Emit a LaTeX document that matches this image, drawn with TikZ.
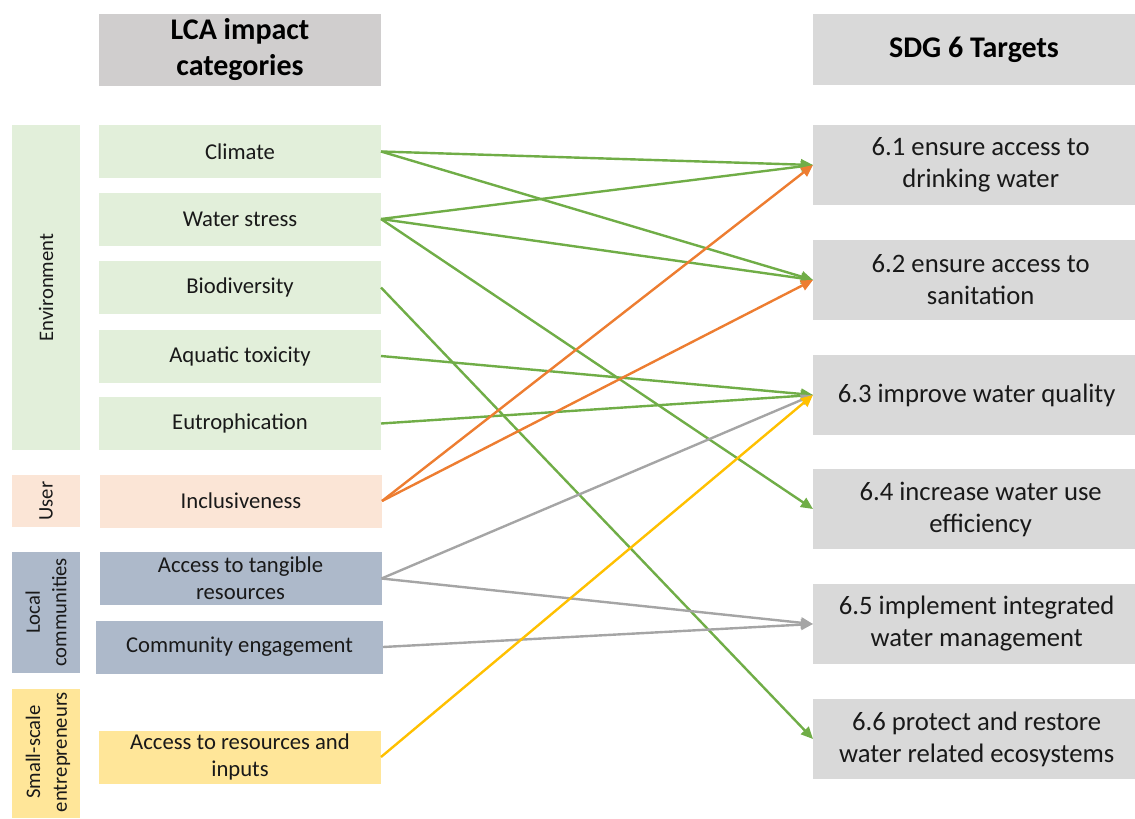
\documentclass[tikz,border=0pt]{standalone}
\usepackage{fontspec}
\setmainfont{Carlito}
\usetikzlibrary{arrows.meta}
\definecolor{envgreen}{HTML}{E2EFDA}
\definecolor{userpink}{HTML}{FBE5D6}
\definecolor{localblue}{HTML}{ADB9CA}
\definecolor{smallyellow}{HTML}{FFE699}
\definecolor{hdrgray}{HTML}{D0CECE}
\definecolor{sdggray}{HTML}{D9D9D9}
\definecolor{lgreen}{HTML}{70AD47}
\definecolor{lorange}{HTML}{ED7D31}
\definecolor{lgray}{HTML}{A5A5A5}
\definecolor{lyellow}{HTML}{FFC000}
\tikzset{
  catbox/.style={inner sep=0pt, outer sep=0pt, minimum width=211.5pt, minimum height=39.75pt, align=center, font=\fontsize{17}{20}\selectfont, text=black!90},
  sdgbox/.style={fill=sdggray, inner sep=0pt, outer sep=0pt, minimum width=241.5pt, minimum height=60pt, align=center, font=\fontsize{20}{24}\selectfont, text=black!90},
  hdrbox/.style={fill=hdrgray, inner sep=0pt, outer sep=0pt, align=center, font=\fontsize{22.5}{27}\selectfont\bfseries},
  sidebox/.style={inner sep=0pt, outer sep=0pt, minimum width=51pt, align=center},
  sidelabel/.style={rotate=90, align=center, font=\fontsize{15.5}{20}\selectfont, text=black!90},
  link/.style={line width=1.8pt, -{Triangle[length=9pt,width=8pt]}},
}
\begin{document}
\begin{tikzpicture}[x=0.75pt,y=-0.75pt]
\useasboundingbox (0,0) rectangle (1135,818);
% headers
\node[hdrbox, minimum width=211.5pt, minimum height=54pt] (hlca) at (240,50) {\raisebox{-2pt}{LCA impact}\\\raisebox{-2pt}{categories}};
\node[hdrbox, fill=sdggray, minimum width=241.5pt, minimum height=53.25pt] (hsdg) at (974,49.5) {\raisebox{-2pt}{SDG 6 Targets}};
% side groups
\node[sidebox, fill=envgreen, minimum height=243.75pt] (genv) at (46,287.5) {};
\node[sidelabel] at (genv.center) {Environment};
\node[sidebox, fill=userpink, minimum height=39pt] (guser) at (46,501) {};
\node[sidelabel] at (guser.center) {User};
\node[sidebox, fill=localblue, minimum height=90.75pt] (glocal) at (46,612.5) {};
\node[sidelabel] at (glocal.center) {Local\\communities};
\node[sidebox, fill=smallyellow, minimum height=96.75pt] (gsmall) at (46,753.5) {};
\node[sidelabel] at (48,752) {Small-scale\\entrepreneurs};
% categories
\node[catbox, fill=envgreen] (clim) at (240,151.5) {Climate};
\node[catbox, fill=envgreen] (wat) at (240,219) {Water stress};
\node[catbox, fill=envgreen] (bio) at (240,287.5) {Biodiversity};
\node[catbox, fill=envgreen] (aqu) at (240,356) {Aquatic toxicity};
\node[catbox, fill=envgreen] (eut) at (240,423.5) {Eutrophication};
\node[catbox, fill=userpink] (inc) at (241,501) {Inclusiveness};
\node[catbox, fill=localblue] (tang) at (240.5,578.5) {Access to tangible\\resources};
\node[catbox, fill=localblue, minimum width=215.25pt] (comm) at (239.5,647) {Community engagement};
\node[catbox, fill=smallyellow] (inp) at (240,757) {Access to resources and\\inputs};
% SDG targets
\node[sdgbox] (t1) at (974,165) {\hspace*{10pt}6.1 ensure access to\\\hspace*{10pt}drinking water};
\node[sdgbox] (t2) at (974,280) {\hspace*{10pt}6.2 ensure access to\\\hspace*{10pt}sanitation};
\node[sdgbox] (t3) at (974,395) {\hspace*{4pt}\raisebox{-2pt}{6.3 improve water quality}};
\node[sdgbox] (t4) at (974,509) {\hspace*{10pt}6.4 increase water use\\\hspace*{10pt}efficiency};
\node[sdgbox] (t5) at (974,624) {\hspace*{4pt}6.5 implement integrated\\\hspace*{4pt}water management};
\node[sdgbox] (t6) at (974,739) {\hspace*{4pt}6.6 protect and restore\\\hspace*{4pt}water related ecosystems};
% links
\draw[link, lgreen] (clim.east) -- (t1.west);
\draw[link, lgreen] (clim.east) -- (t2.west);
\draw[link, lgreen] (wat.east) -- (t1.west);
\draw[link, lgreen] (wat.east) -- (t2.west);
\draw[link, lgreen] (wat.east) -- (t4.west);
\draw[link, lgreen] (bio.east) -- (t6.west);
\draw[link, lgreen] (aqu.east) -- (t3.west);
\draw[link, lgreen] (eut.east) -- (t3.west);
\draw[link, lorange] (inc.east) -- (t1.west);
\draw[link, lorange] (inc.east) -- (t2.west);
\draw[link, lgray] (tang.east) -- (t3.west);
\draw[link, lgray] (tang.east) -- (t5.west);
\draw[link, lgray] (comm.east) -- (t5.west);
\draw[link, lyellow] (inp.east) -- (t3.west);
\end{tikzpicture}
\end{document}
